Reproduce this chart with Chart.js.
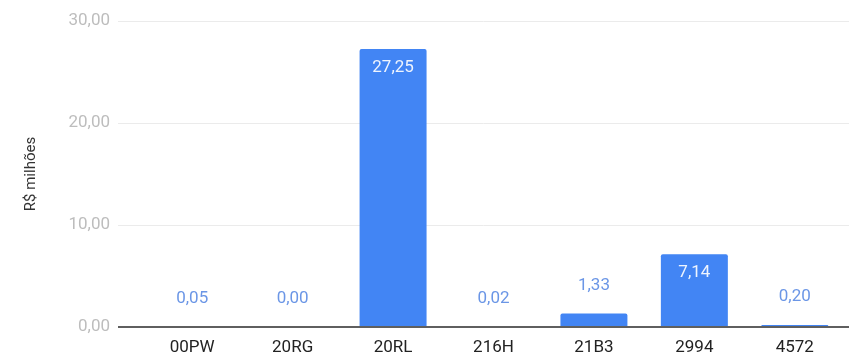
<!DOCTYPE html>
<html>
<head>
<meta charset="utf-8">
<script src="https://cdn.jsdelivr.net/npm/chart.js@4.4.1/dist/chart.umd.min.js"></script>
<style>
  html, body { margin: 0; padding: 0; background: #fff; }
  #wrap { width: 850px; height: 354px; position: relative; }
</style>
</head>
<body>
<div id="wrap"><canvas id="c"></canvas></div>
<script>
// acções por código, valores em R$ milhões
const categorias = ['00PW', '20RG', '20RL', '216H', '21B3', '2994', '4572'];
const valores = [0.05, 0.00, 27.25, 0.02, 1.33, 7.14, 0.20];
const yTicks = [0, 10, 20, 30];

const fmt = v => v.toFixed(2).replace('.', ',');
const FONT = 'Roboto, Arial, sans-serif';

// grid lines stretch a bit past the bar area, like the original sheet chart
const gridLines = {
  id: 'gridLines',
  beforeDatasetsDraw(chart) {
    const { ctx, scales: { y } } = chart;
    ctx.save();
    ctx.strokeStyle = '#ebebeb';
    ctx.lineWidth = 1;
    yTicks.forEach(t => {
      if (t === 0) return;
      const py = Math.round(y.getPixelForValue(t)) + 0.5;
      ctx.beginPath();
      ctx.moveTo(118, py);
      ctx.lineTo(849, py);
      ctx.stroke();
    });
    ctx.restore();
  },
  afterDatasetsDraw(chart) {
    const { ctx, scales: { y } } = chart;
    const py = y.getPixelForValue(0);
    ctx.save();
    ctx.strokeStyle = '#5f5f5f';
    ctx.lineWidth = 2;
    ctx.beginPath();
    ctx.moveTo(118, py);
    ctx.lineTo(849, py);
    ctx.stroke();
    ctx.restore();
  }
};

// value labels: inside the bar when it is tall enough, above otherwise
const valueLabels = {
  id: 'valueLabels',
  afterDraw(chart) {
    const { ctx } = chart;
    const meta = chart.getDatasetMeta(0);
    ctx.save();
    ctx.font = '17px ' + FONT;
    ctx.textAlign = 'center';
    ctx.textBaseline = 'middle';
    meta.data.forEach((bar, i) => {
      const h = bar.base - bar.y;
      if (h > 35) {
        ctx.fillStyle = '#eef4fe';
        ctx.fillText(fmt(valores[i]), bar.x, bar.y + 19);
      } else {
        ctx.fillStyle = '#6b96e6';
        ctx.fillText(fmt(valores[i]), bar.x, bar.y - 28);
      }
    });
    ctx.restore();
  }
};

new Chart(document.getElementById('c'), {
  type: 'bar',
  data: {
    labels: categorias,
    datasets: [{
      data: valores,
      backgroundColor: '#4285f4',
      borderRadius: { topLeft: 2, topRight: 2 },
      borderSkipped: 'bottom',
      categoryPercentage: 1,
      barPercentage: 0.667
    }]
  },
  options: {
    responsive: true,
    maintainAspectRatio: false,
    animation: false,
    layout: { padding: { left: 22, right: 5, top: 21, bottom: 0 } },
    plugins: {
      legend: { display: false },
      tooltip: { enabled: false }
    },
    scales: {
      x: {
        grid: { display: false },
        border: { display: false },
        ticks: { color: '#222', font: { family: FONT, size: 17 }, padding: 3 },
        afterFit(s) { s.height = 27; s.paddingLeft = 0; s.paddingRight = 0; }
      },
      y: {
        min: 0,
        max: 30,
        afterBuildTicks(s) { s.ticks = yTicks.map(v => ({ value: v })); },
        grid: { display: false },
        border: { display: false },
        ticks: {
          color: '#bdbdbd',
          font: { family: FONT, size: 17 },
          padding: 24,
          callback: v => fmt(v)
        },
        title: {
          display: true,
          text: 'R$ milhões',
          color: '#333',
          font: { family: FONT, size: 15 },
          padding: 0
        },
        afterFit(s) { s.width = 120; s.paddingTop = 0; s.paddingBottom = 0; }
      }
    }
  },
  plugins: [gridLines, valueLabels]
});
</script>
</body>
</html>
